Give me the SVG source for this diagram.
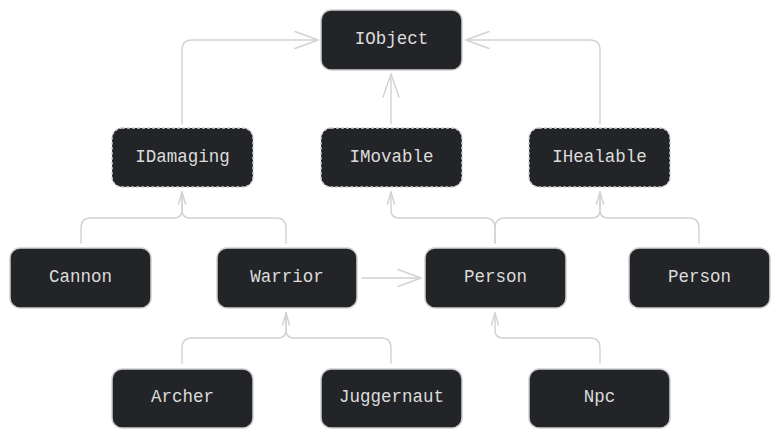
<svg xmlns="http://www.w3.org/2000/svg" width="780" height="439" viewBox="0 0 780 439">
<style>
.bg{fill:#ffffff}
.n rect{fill:#232427;stroke:#cfcfcf;stroke-width:1.5}
.i rect{stroke-dasharray:3 2}
.n text{font-family:"Liberation Mono","DejaVu Sans Mono",monospace;font-size:17.5px;fill:#dcdcdc;text-anchor:middle;dominant-baseline:central}
.c path{fill:none;stroke:#d2d2d2;stroke-width:1.4;stroke-linecap:round;stroke-linejoin:round}
</style>
<rect class="bg" width="780" height="439"/>
<g class="c">
<!-- IDamaging -> IObject -->
<path d="M182,124 V50 Q182,40 192,40 H318"/>
<path d="M295,31.5 L318,40 L295,48.5"/>
<!-- IMovable -> IObject -->
<path d="M391,124 V74"/>
<path d="M383,97 L391,74 L399,97"/>
<!-- IHealable -> IObject -->
<path d="M600,124 V50 Q600,40 590,40 H466"/>
<path d="M489,31.5 L466,40 L489,48.5"/>
<!-- Cannon, Warrior -> IDamaging -->
<path d="M81,243 V228 Q81,218 91,218 H174 Q182,218 182,210 V192"/>
<path d="M286,243 V228 Q286,218 276,218 H190 Q182,218 182,210 V192"/>
<path d="M178.5,204 L182,192 L185.5,204"/>
<!-- Person -> IMovable, IHealable -->
<path d="M495,243 V228 Q495,218 485,218 H399 Q391,218 391,210 V192"/>
<path d="M387.5,204 L391,192 L394.5,204"/>
<path d="M495,243 V228 Q495,218 505,218 H592 Q600,218 600,210 V192"/>
<path d="M699,243 V228 Q699,218 689,218 H608 Q600,218 600,210 V192"/>
<path d="M596.5,204 L600,192 L603.5,204"/>
<!-- Warrior -> Person -->
<path d="M362,278 H421"/>
<path d="M398,269.5 L421,278 L398,286.5"/>
<!-- Archer, Juggernaut -> Warrior -->
<path d="M182,363 V348 Q182,338 192,338 H278 Q286,338 286,330 V313"/>
<path d="M391,363 V348 Q391,338 381,338 H294 Q286,338 286,330 V313"/>
<path d="M282.5,325 L286,313 L289.5,325"/>
<!-- Npc -> Person -->
<path d="M600,363 V348 Q600,338 590,338 H503 Q495,338 495,330 V313"/>
<path d="M491.5,325 L495,313 L498.5,325"/>
</g>
<g id="IObject" class="n"><rect x="321" y="10" width="141" height="60" rx="10"/><text x="391.5" y="39">IObject</text></g>
<g id="IDamaging" class="n i"><rect x="112" y="128" width="141" height="59" rx="10"/><text x="182.5" y="157">IDamaging</text></g>
<g id="IMovable" class="n i"><rect x="321" y="128" width="141" height="59" rx="10"/><text x="391.5" y="157">IMovable</text></g>
<g id="IHealable" class="n i"><rect x="529" y="128" width="141" height="59" rx="10"/><text x="599.5" y="157">IHealable</text></g>
<g id="Cannon" class="n"><rect x="10" y="248" width="141" height="60" rx="10"/><text x="80.5" y="277">Cannon</text></g>
<g id="Warrior" class="n"><rect x="217" y="248" width="140" height="60" rx="10"/><text x="287" y="277">Warrior</text></g>
<g id="Person" class="n"><rect x="425" y="248" width="141" height="60" rx="10"/><text x="495.5" y="277">Person</text></g>
<g id="Person2" class="n"><rect x="629" y="248" width="141" height="60" rx="10"/><text x="699.5" y="277">Person</text></g>
<g id="Archer" class="n"><rect x="112" y="369" width="141" height="59" rx="10"/><text x="182.5" y="397">Archer</text></g>
<g id="Juggernaut" class="n"><rect x="321" y="369" width="141" height="59" rx="10"/><text x="391.5" y="397">Juggernaut</text></g>
<g id="Npc" class="n"><rect x="529" y="369" width="141" height="59" rx="10"/><text x="599.5" y="397">Npc</text></g>
</svg>
